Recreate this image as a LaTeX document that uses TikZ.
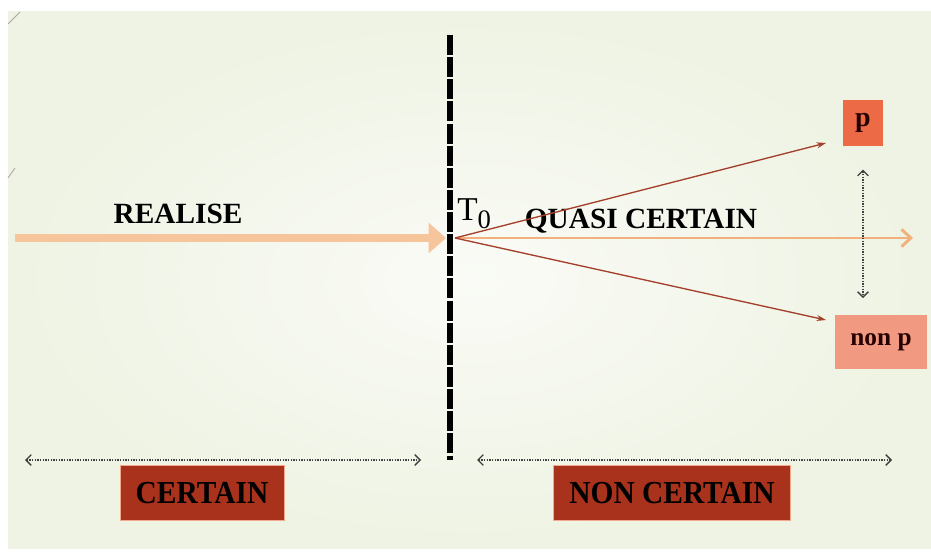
\documentclass[tikz,border=0pt]{standalone}
\usepackage{fontspec}
\setmainfont{Liberation Serif}
\usetikzlibrary{arrows.meta,positioning,calc}
\definecolor{SlideBg}{HTML}{FAFBF6}
\definecolor{SlideEdge}{HTML}{EEF3E3}
\definecolor{PeachArrow}{HTML}{F6C59C}
\definecolor{PeachLine}{HTML}{F1B07C}
\definecolor{RustLine}{HTML}{A43F2C}
\definecolor{PBox}{HTML}{EC6A46}
\definecolor{NonPBox}{HTML}{F29A81}
\definecolor{DarkRed}{HTML}{A8321B}
\definecolor{BoxEdge}{HTML}{F2A98C}
\newcommand{\slim}[1]{\scalebox{0.92}[1]{#1}}
\tikzset{
  label/.style={font=\fontsize{22}{26}\selectfont\bfseries, text=black, inner sep=0pt},
  pbox/.style={fill=PBox, font=\fontsize{21}{24}\selectfont\bfseries, text=black!85!red, minimum width=30pt, minimum height=35pt, inner sep=0pt},
  nonpbox/.style={fill=NonPBox, font=\fontsize{19}{22}\selectfont\bfseries, text=black!85!red, minimum width=69pt, minimum height=40pt, inner sep=0pt},
  bigbox/.style={fill=DarkRed, draw=BoxEdge, line width=0.6pt, font=\fontsize{24}{27}\selectfont\bfseries, text=black, minimum height=41pt, inner sep=0pt},
  bigarrow/.style={-{Triangle[length=13pt,width=22pt]}, line width=6pt, draw=PeachArrow, color=PeachArrow},
  thinarrow/.style={-{Straight Barb[length=7pt,width=13pt]}, line width=2.2pt, draw=PeachLine},
  branch/.style={-{Stealth[length=7pt,width=4.5pt]}, line width=1pt, draw=RustLine},
  span/.style={{Straight Barb[length=4pt,width=8pt]}-{Straight Barb[length=4pt,width=8pt]}, line width=1pt, densely dotted, draw=black!75}
}
\begin{document}
\begin{tikzpicture}[x=0.75pt, y=-0.75pt]
    \useasboundingbox (0,0) rectangle (931,552);
    \fill[white] (0,0) rectangle (931,552);
    \shade[inner color=SlideBg, outer color=SlideEdge] (8,12) rectangle (931,548);
    % slide corner marks
    \draw[gray!70, line width=0.6pt] (8,24) -- (20,12);
    \draw[gray!70, line width=0.6pt] (8,178) -- (15,168);

    % time line
    \coordinate (top) at (450,35);
    \coordinate (bottom) at (450,460);
    \draw[line width=4.5pt, dash pattern=on 15pt off 1.6pt] (top) -- (bottom);

    \coordinate (start) at (15,238);
    \coordinate (t0) at (446,238);
    \coordinate (fork) at (455,238);
    \coordinate (end) at (913,238);

    \node[label] (realise) at (178,214) {REALISE};
    \node[font=\fontsize{25}{28}\selectfont, inner sep=0pt, anchor=base west] (tzero) at (457,221) {T\raisebox{-6pt}{\fontsize{20}{20}\selectfont 0}};
    \node[label] (quasi) at (641,221) {QUASI CERTAIN};

    \node[pbox] (p) at (863,123) {p};
    \node[nonpbox] (nonp) at (881,342) {non p};
    \coordinate (top end) at (826,143);
    \coordinate (low end) at (826,320);

    \draw[bigarrow] (start) -- (t0);
    \draw[thinarrow] (fork) -- (end);
    \draw[branch] (fork) -- (top end);
    \draw[branch] (fork) -- (low end);
    \draw[span] ($(p.south)+(0,23)$) -- ($(nonp.north)+(-18,-17)$);

    % lower spans
    \coordinate (left a) at (25,460);
    \coordinate (left b) at (421,460);
    \coordinate (right a) at (477,460);
    \coordinate (right b) at (892,460);
    \draw[span] (left a) -- (left b);
    \draw[span] (right a) -- (right b);

    \node[bigbox, minimum width=123pt] (certain) at (202,493) {\slim{CERTAIN}};
    \node[bigbox, minimum width=178pt] (noncertain) at (672,493) {\slim{NON CERTAIN}};
  \end{tikzpicture}
\end{document}
